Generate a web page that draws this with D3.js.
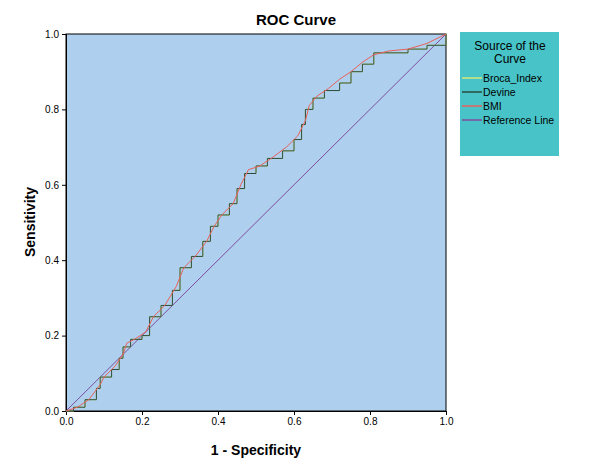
<!DOCTYPE html><html><head><script src="https://cdn.jsdelivr.net/npm/d3@7"></script>
<style>body{margin:0;background:#fff}text{font-family:Arial,"Liberation Sans",sans-serif}</style></head><body>
<svg id="c" width="592" height="469"></svg>
<script>
const ticks=[0,0.2,0.4,0.6,0.8,1.0];
const devineX=[0,0.02,0.05,0.08,0.09,0.12,0.14,0.15,0.17,0.2,0.22,0.25,0.28,0.3,0.33,0.36,0.38,0.4,0.43,0.45,0.47,0.5,0.53,0.57,0.6,0.62,0.63,0.65,0.68,0.72,0.75,0.78,0.81,0.85,0.9,0.95,1];
const devineY=[0,0.01,0.03,0.06,0.09,0.11,0.14,0.17,0.19,0.2,0.25,0.28,0.32,0.38,0.41,0.45,0.49,0.52,0.55,0.59,0.63,0.65,0.67,0.69,0.72,0.76,0.80,0.83,0.85,0.87,0.9,0.92,0.95,0.95,0.96,0.97,1];
const bmiX=[0,0.03,0.06,0.09,0.1,0.13,0.15,0.16,0.18,0.21,0.23,0.26,0.29,0.31,0.34,0.37,0.39,0.41,0.44,0.46,0.48,0.51,0.54,0.58,0.61,0.63,0.64,0.66,0.69,0.72,0.75,0.78,0.81,0.85,0.9,0.95,1];
const bmiY=[0,0.01,0.03,0.07,0.09,0.12,0.15,0.18,0.19,0.21,0.25,0.28,0.33,0.38,0.41,0.45,0.49,0.52,0.55,0.60,0.64,0.65,0.67,0.70,0.73,0.77,0.81,0.835,0.855,0.88,0.9,0.925,0.945,0.955,0.96,0.975,1];
const series=["Broca_Index","Devine","BMI","Reference Line"];
const colors=["#d4e87a","#2a4a3e","#e8605a","#7e4e9e"];
const svg=d3.select("#c");
const x=d3.scaleLinear().domain([0,1]).range([66,446]);
const y=d3.scaleLinear().domain([0,1]).range([411,34]);
svg.append("rect").attr("x",66).attr("y",34).attr("width",380).attr("height",377).attr("fill","#aed0ee").attr("stroke","#000");
svg.append("g").attr("transform","translate(0,411)").call(d3.axisBottom(x).tickValues(ticks).tickFormat(d3.format(".1f")).tickSize(4)).call(g=>g.selectAll("text").attr("font-size",10));
svg.append("g").attr("transform","translate(66,0)").call(d3.axisLeft(y).tickValues(ticks).tickFormat(d3.format(".1f")).tickSize(4)).call(g=>g.selectAll("text").attr("font-size",10));
const line=d3.line().x(d=>x(d[0])).y(d=>y(d[1]));
const dev=devineX.map((v,i)=>[v,devineY[i]]);
const bmi=bmiX.map((v,i)=>[v,bmiY[i]]);
svg.append("path").attr("d",line([[0,0],[1,1]])).attr("stroke",colors[3]).attr("fill","none");
svg.append("path").attr("d",line.curve(d3.curveStepAfter)(dev)).attr("stroke",colors[0]).attr("fill","none");
svg.append("path").attr("d",line.curve(d3.curveStepAfter)(dev)).attr("stroke",colors[1]).attr("fill","none");
svg.append("path").attr("d",line.curve(d3.curveLinear)(bmi)).attr("stroke",colors[2]).attr("fill","none");
svg.append("text").attr("x",296).attr("y",25).attr("text-anchor","middle").attr("font-size",15).attr("font-weight","bold").text("ROC Curve");
svg.append("text").attr("x",256).attr("y",455).attr("text-anchor","middle").attr("font-size",14).attr("font-weight","bold").text("1 - Specificity");
svg.append("text").attr("transform","translate(35,222) rotate(-90)").attr("text-anchor","middle").attr("font-size",14).attr("font-weight","bold").text("Sensitivity");
const lg=svg.append("g");
lg.append("rect").attr("x",460).attr("y",32).attr("width",99).attr("height",124).attr("fill","#48c4c8");
lg.append("text").attr("x",510).attr("y",50).attr("text-anchor","middle").attr("font-size",12).text("Source of the");
lg.append("text").attr("x",510).attr("y",63).attr("text-anchor","middle").attr("font-size",12).text("Curve");
series.forEach((s,i)=>{const yy=78+i*14;
lg.append("line").attr("x1",462).attr("x2",482).attr("y1",yy).attr("y2",yy).attr("stroke",colors[i]).attr("stroke-width",1.5);
lg.append("text").attr("x",483).attr("y",yy+4).attr("font-size",10.5).text(s);});
</script></body></html>
